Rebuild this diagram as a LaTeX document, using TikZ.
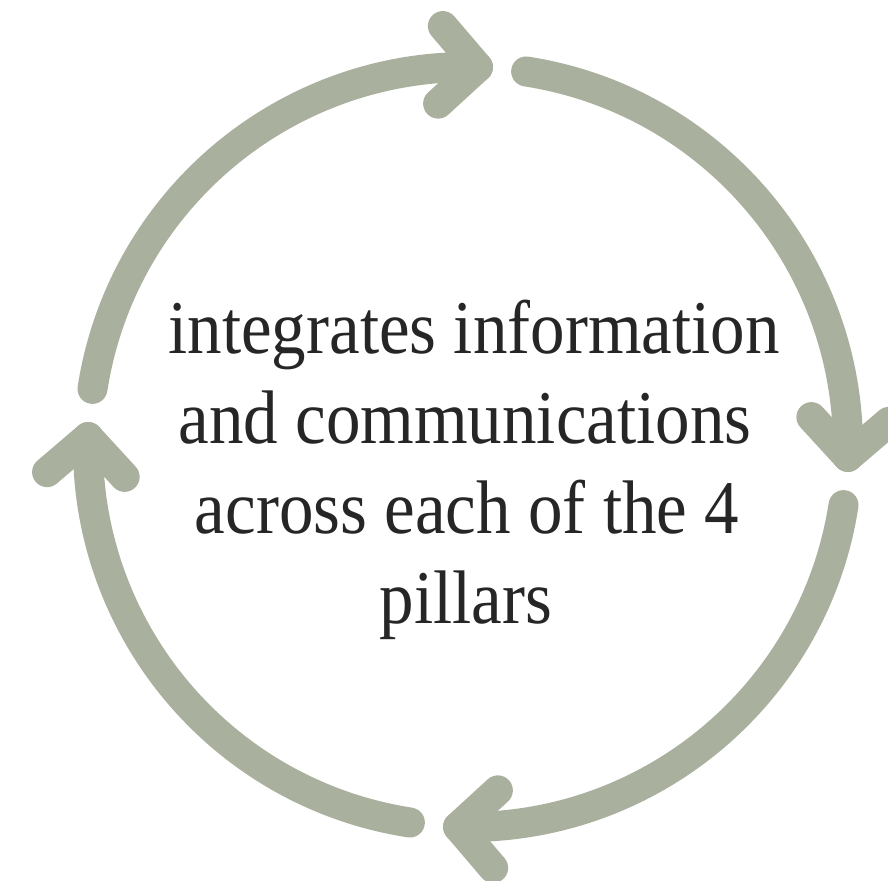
\documentclass[tikz,border=0pt]{standalone}
\usepackage{graphicx}
\usepackage{fontspec}
\setmainfont{Liberation Serif}
\usetikzlibrary{calc}
\definecolor{sage}{RGB}{170,176,158}
\definecolor{ink}{RGB}{38,38,38}
\tikzset{
  ring/.style={draw=sage, line width=30pt, line cap=round, line join=round},
  caption/.style={anchor=base, text=ink, inner sep=0pt, font=\fontsize{69}{90}\selectfont}
}
\newcommand{\tallline}[1]{\scalebox{1}[1.1]{#1}}
\begin{document}
\begin{tikzpicture}[x=1pt,y=1pt]
\useasboundingbox[fill=white] (0,0) rectangle (888,880);
\coordinate (O) at (468,433);
\def\R{380}
\foreach \k in {0,-90,-180,-270}{
  \draw[ring] ($(O)+(\k+81.2:\R)$) arc[start angle=\k+81.2, end angle=\k-1.5, radius=\R];
  \coordinate (v) at ($(O)+(\k-1.5:\R)$);
  \draw[ring] ([shift={(\k-1.5+42:54)}]v) -- (v) -- ([shift={(\k-1.5+134:54)}]v);
}
\node[caption] (l1) at (474,526) {\tallline{integrates information}};
\node[caption] (l2) at (465,436) {\tallline{and communications}};
\node[caption] (l3) at (467,346) {\tallline{across each of the 4}};
\node[caption] (l4) at (466,256) {\tallline{pillars}};
\end{tikzpicture}
\end{document}
